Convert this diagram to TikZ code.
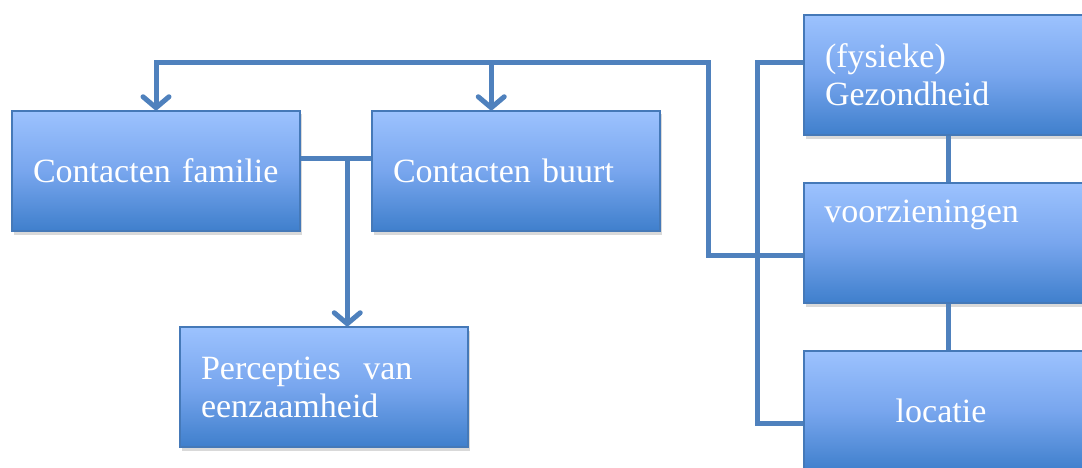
\documentclass[tikz,border=0pt]{standalone}
\usepackage{fontspec}
\setmainfont{Liberation Serif}
\usetikzlibrary{arrows.meta,shadows,calc}
\definecolor{connc}{HTML}{4F81BD}
\definecolor{boxborder}{HTML}{4579B8}
\definecolor{boxtop}{HTML}{9CC2FE}
\definecolor{boxmid}{HTML}{78A6EE}
\definecolor{boxbot}{HTML}{3F7FCC}
\begin{document}
\begin{tikzpicture}[x=1pt,y=1pt,
  box/.style={draw=boxborder, line width=1.5pt, minimum width=288pt, minimum height=120pt,
    inner sep=0pt, top color=boxtop, bottom color=boxbot, middle color=boxmid,
    drop shadow={shadow xshift=1.5pt, shadow yshift=-3.5pt, opacity=0.15, fill=black},
    text=white, font=\fontsize{34}{38}\selectfont},
  lbox/.style={box, align=left, text width=246pt},
  boxtext/.style={text=white, font=\fontsize{34}{38}\selectfont, inner sep=0pt},
  link/.style={draw=connc, line width=5pt},
  arr/.style={-{Straight Barb[length=11pt,width=26pt,round]}}]
\useasboundingbox (0,0) rectangle (1082,467);
\clip (0,0) rectangle (1082,467);

\node[lbox] (A) at (156,296) {Contacten familie};
\node[lbox] (B) at (516,296) {Contacten buurt};
\node[lbox] (P) at (324,80) {Percepties\ \ van\\eenzaamheid};
\node[lbox] (G) at (948,392) {(fysieke)\\Gezondheid};
\node[box] (V) at (948,224) {};
\node[boxtext, anchor=base west] (Vt) at ($(V.north west)+(21,-40)$) {voorzieningen};
\node[box] (L) at (948,56) {\hspace*{-14pt}locatie};

\coordinate (bus) at (708,404);
\coordinate (Bx) at ($(B.north west)+(120,0)$);
\coordinate (Px) at ($(P.north west)+(168,0)$);
\coordinate (rb) at (757,0);
\path ($(A.east)+(0,13)$) coordinate (ab);
\path ($(G.west)+(0,12)$) coordinate (g1);

\draw[link,arr] ($(V.west)+(0,-12)$) -| (bus) -| (A.north);
\draw[link,arr] (bus -| Bx) -- (Bx);
\draw[link] (ab) -- ($(B.west)+(0,13)$);
\draw[link,arr] (ab -| Px) -- (Px);
\draw[link] (g1) -- (g1 -| rb) |- ($(L.west)+(0,-12)$);
\draw[link] (G.south) -- (V.north);
\draw[link] (V.south) -- (L.north);
\end{tikzpicture}
\end{document}
